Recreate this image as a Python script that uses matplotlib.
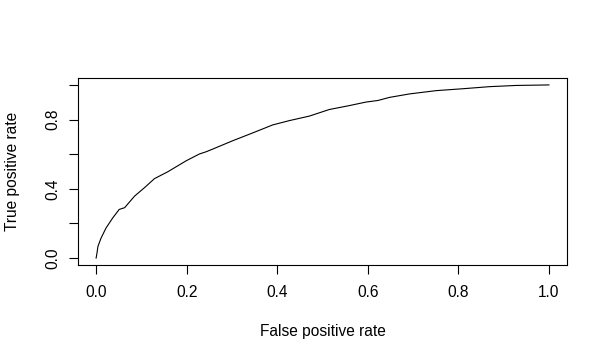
import matplotlib
matplotlib.use("Agg")
import matplotlib.pyplot as plt

# curva ROC
fpr = [0.0, 0.002, 0.004, 0.011, 0.022, 0.037, 0.051, 0.063, 0.085, 0.107, 0.129,
       0.158, 0.199, 0.228, 0.243, 0.258, 0.302, 0.346, 0.390, 0.427, 0.471,
       0.515, 0.560, 0.596, 0.622, 0.648, 0.692, 0.751, 0.810, 0.869, 0.928, 1.0]
tpr = [0.0, 0.03, 0.067, 0.116, 0.174, 0.233, 0.281, 0.291, 0.358, 0.407, 0.459,
       0.498, 0.562, 0.601, 0.614, 0.630, 0.678, 0.723, 0.769, 0.794, 0.820,
       0.858, 0.881, 0.901, 0.910, 0.928, 0.948, 0.967, 0.978, 0.99, 0.997, 1.0]

xticks = [0.0, 0.2, 0.4, 0.6, 0.8, 1.0]
xtick_labels = ["0.0", "0.2", "0.4", "0.6", "0.8", "1.0"]
yticks = [0.0, 0.2, 0.4, 0.6, 0.8, 1.0]
ytick_labels = ["0.0", "", "0.4", "", "0.8", ""]

plt.rcParams['font.family'] = ['Liberation Sans', 'DejaVu Sans']
plt.rcParams['font.size'] = 11.2

fig = plt.figure(figsize=(6.08, 3.63), dpi=100)
ax = fig.add_axes([78 / 608, 98 / 363, 489 / 608, 187 / 363])

ax.plot(fpr, tpr, color="black", linewidth=0.8)

ax.set_xlim(-0.04, 1.04)
ax.set_ylim(-0.04, 1.04)
ax.set_xticks(xticks)
ax.set_xticklabels(xtick_labels)
ax.set_yticks(yticks)
ax.set_yticklabels(ytick_labels, rotation=90, va="center")

for s in ax.spines.values():
    s.set_linewidth(0.8)
ax.tick_params(axis="both", length=6.8, width=0.8, direction="out", colors="black")
ax.tick_params(axis="x", pad=7.5)
ax.tick_params(axis="y", pad=5.8)

ax.set_xlabel("False positive rate", va="center")
ax.set_ylabel("True positive rate", va="center")
ax.xaxis.set_label_coords(0.5, -0.353)
ax.yaxis.set_label_coords(-0.134, 0.5)

fig.savefig("out.png", dpi=100)
